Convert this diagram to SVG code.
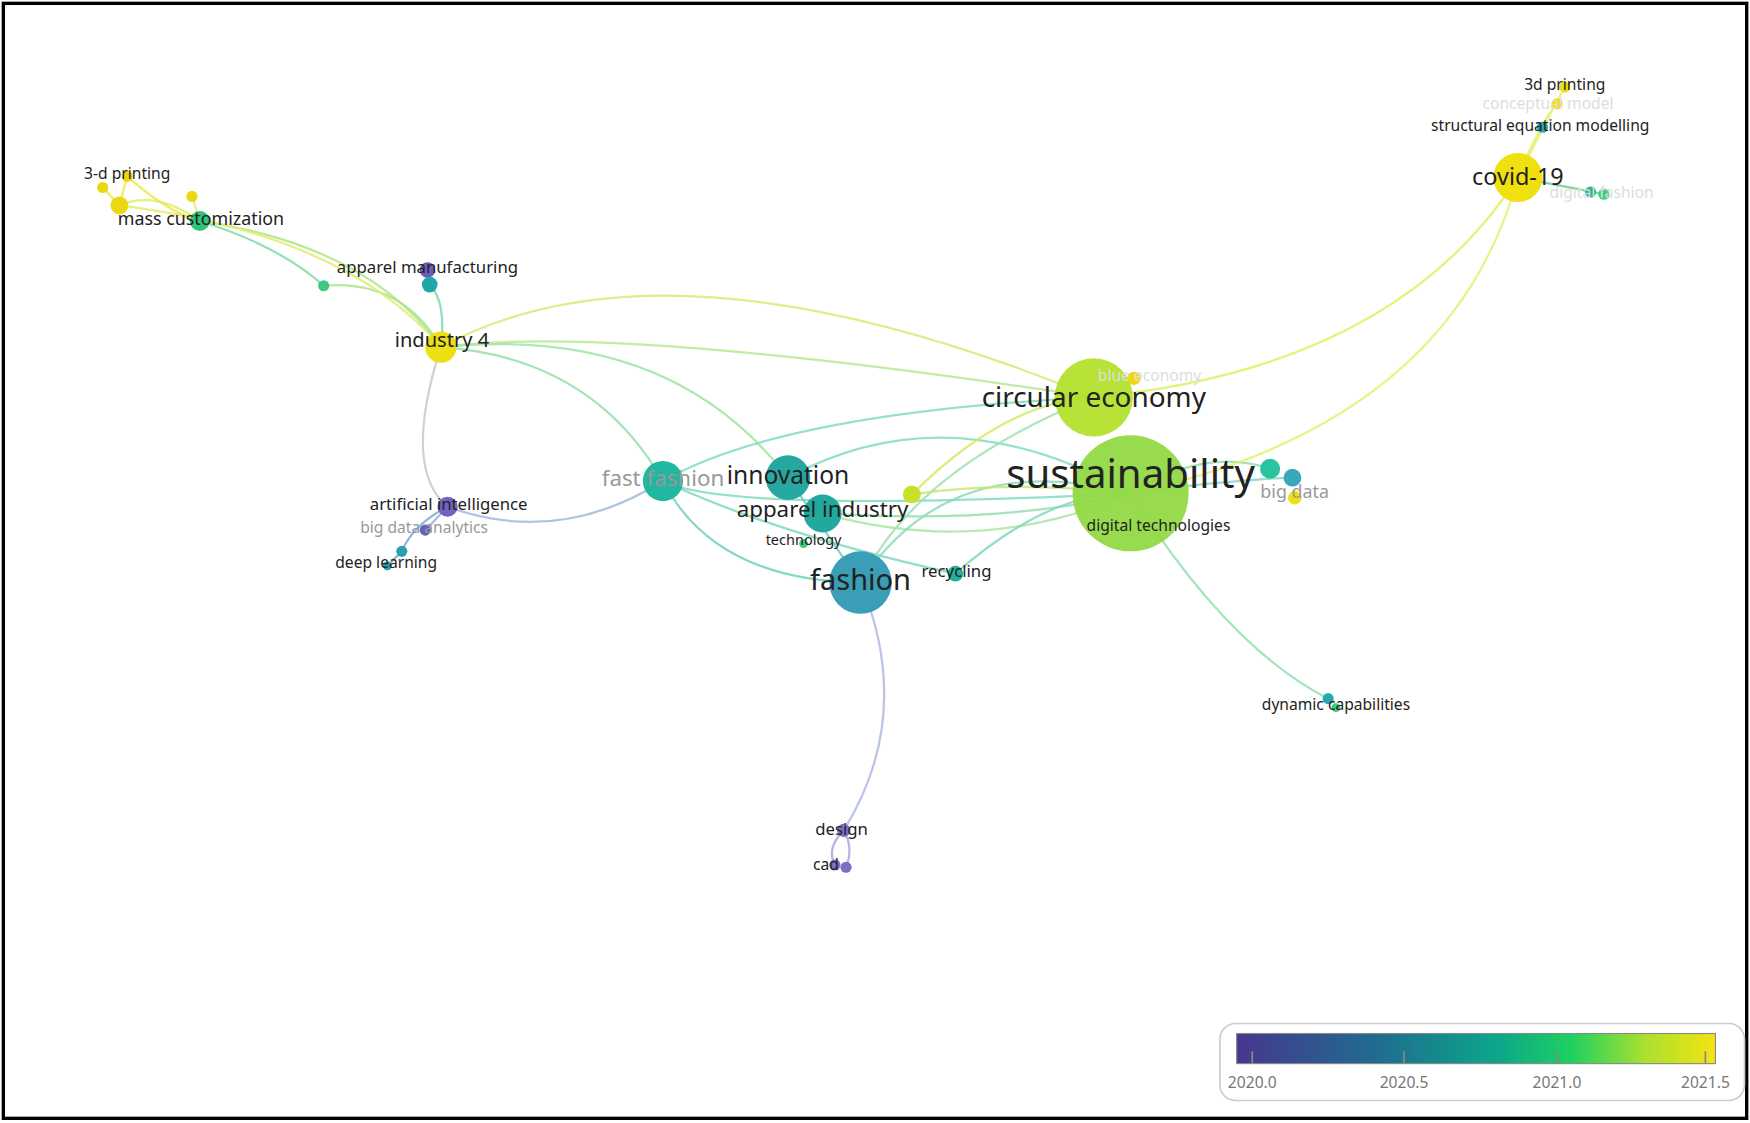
<svg xmlns="http://www.w3.org/2000/svg" width="1750" height="1123" viewBox="0 0 1750 1123">
<defs>
<style>
text{font-family:"Noto Sans","Open Sans","DejaVu Sans",sans-serif;fill:#222;text-anchor:middle;dominant-baseline:middle}
.g{fill:#999}.f{fill:#ddd}
.c path{fill:none;stroke-width:2;opacity:.85}
.lt{font-size:14px}
</style>
<linearGradient id="lg" x1="0" x2="1">
<stop offset="0" stop-color="#46378e"/><stop offset="0.3" stop-color="#1f6d8f"/><stop offset="0.55" stop-color="#0ca88a"/><stop offset="0.7" stop-color="#20d060"/><stop offset="0.85" stop-color="#a8e030"/><stop offset="1" stop-color="#f5e410"/>
</linearGradient>
</defs>
<rect x="0" y="0" width="1750" height="1123" fill="#fff"/>
<g transform="scale(1.1161)">
<rect x="3" y="3" width="1562" height="999" fill="none" stroke="#000" stroke-width="3"/>
<g class="c" id="connectors">
<path d="M395 311 Q600 200 980 356" stroke="#d4ec70"/>
<path d="M395 311 Q550 290 980 356" stroke="#b8e890"/>
<path d="M395 311 Q530 320 594 431" stroke="#90e0a8"/>
<path d="M395 311 Q600 290 706 428" stroke="#a0e4a0"/>
<path d="M395 311 Q330 220 179 198" stroke="#b0e880"/>
<path d="M395 311 Q360 250 290 256" stroke="#a8e48c"/>
<path d="M395 311 Q400 270 385 255" stroke="#80d8b0"/>
<path d="M395 311 Q360 420 401 454" stroke="#c8c8d0"/>
<path d="M395 311 Q310 210 107 184" stroke="#e0ec70"/>
<path d="M290 256 Q250 220 179 198" stroke="#80dca0"/>
<path d="M107 184 Q140 170 179 198" stroke="#e0ec70"/>
<path d="M114 158 L107 184 L92 168 M114 158 Q150 190 179 198" stroke="#f0e840"/>
<path d="M172 176 L179 198" stroke="#e0ec70"/>
<path d="M401 454 Q500 490 594 431" stroke="#a0b8e0"/>
<path d="M401 454 Q370 470 360 494 L347 507" stroke="#80a8d0"/>
<path d="M401 454 L381 475" stroke="#a8a8e0"/>
<path d="M594 431 Q650 460 1013 442" stroke="#80dcc0"/>
<path d="M594 431 Q700 370 980 356" stroke="#80dcc0"/>
<path d="M594 431 Q640 520 771 522" stroke="#70d0c0"/>
<path d="M594 431 Q700 480 856 514" stroke="#80d8c0"/>
<path d="M706 428 Q850 350 1013 442" stroke="#80dcc0"/>
<path d="M706 428 L771 522" stroke="#70ccc0"/>
<path d="M737 460 Q900 470 1013 442" stroke="#90e0b0"/>
<path d="M737 460 Q880 500 1013 442" stroke="#a8e8a0"/>
<path d="M771 522 Q850 400 1013 442" stroke="#88dcb8"/>
<path d="M771 522 Q820 420 980 356" stroke="#a0e0b0"/>
<path d="M771 522 Q820 640 756 744" stroke="#b0b8e8"/>
<path d="M817 443 Q900 360 980 356" stroke="#d0ec60"/>
<path d="M817 443 Q900 430 1013 442" stroke="#c8e870"/>
<path d="M856 514 Q940 440 1013 442" stroke="#80d8c0"/>
<path d="M1013 442 Q1080 400 1138 420" stroke="#90e0a8"/>
<path d="M1013 442 Q1100 430 1158 428" stroke="#88d8c0"/>
<path d="M1013 442 Q1100 580 1190 626" stroke="#90e0b0"/>
<path d="M980 356 Q1250 330 1360 159" stroke="#e0f060"/>
<path d="M1013 442 Q1300 380 1360 159" stroke="#e8f070"/>
<path d="M1360 159 Q1390 100 1402 78 M1360 159 L1382 114 M1360 159 Q1380 110 1395 93" stroke="#e8f070"/>
<path d="M1360 159 L1437 174" stroke="#60d090"/>
<path d="M756 744 Q740 760 748 775 M756 744 Q765 760 758 777" stroke="#a8a8e0"/>
</g>
<g id="n-sustainability"><circle cx="1013" cy="442" r="52" fill="#92d944" opacity=".95"/><text x="1013" y="428" font-size="36">sustainability</text></g>
<g id="n-circular"><circle cx="980" cy="356" r="35" fill="#b3e02c" opacity=".95"/><text x="980" y="358" font-size="25">circular economy</text></g>
<g id="n-blue"><circle cx="1016" cy="339" r="6" fill="#f0d818"/><text x="1030" y="338" font-size="14" class="f">blue economy</text></g>
<g id="n-covid"><circle cx="1360" cy="159" r="22" fill="#f0e010"/><text x="1360" y="160" font-size="21">covid-19</text></g>
<g id="n-3dp"><circle cx="1402" cy="78" r="5" fill="#f0e010"/><text x="1402" y="77" class="lt">3d printing</text></g>
<g id="n-concept"><circle cx="1395" cy="93" r="5" fill="#f0e010"/><text x="1387" y="94" class="lt f">conceptual model</text></g>
<g id="n-sem"><circle cx="1382" cy="114" r="5" fill="#2aa6a8"/><text x="1380" y="114" class="lt">structural equation modelling</text></g>
<g id="n-digfash"><circle cx="1425" cy="172" r="5" fill="#28b890"/><circle cx="1437" cy="174" r="5" fill="#40d080"/><text x="1435" y="174" class="lt f">digital fashion</text></g>
<g id="n-industry4"><circle cx="395" cy="311" r="14" fill="#ece010"/><text x="396" y="306" font-size="18">industry 4</text></g>
<g id="n-appman"><circle cx="383" cy="242" r="7" fill="#6a5cb8"/><circle cx="385" cy="255" r="7" fill="#1ea8a8"/><text x="383" y="241" font-size="15">apparel manufacturing</text></g>
<g id="n-g1"><circle cx="290" cy="256" r="5" fill="#40c880"/></g>
<g id="n-masscust"><circle cx="179" cy="198" r="9" fill="#2ec47a"/><text x="180" y="197" font-size="16">mass customization</text></g>
<g id="n-3d"><circle cx="92" cy="168" r="5" fill="#ecd810"/><circle cx="114" cy="158" r="5" fill="#ecd810"/><circle cx="107" cy="184" r="8" fill="#ecd810"/><circle cx="172" cy="176" r="5" fill="#ecd810"/><text x="114" y="157" class="lt">3-d printing</text></g>
<g id="n-ai"><circle cx="401" cy="454" r="9" fill="#7064c0"/><text x="402" y="453" font-size="15">artificial intelligence</text></g>
<g id="n-bda"><circle cx="381" cy="475" r="5" fill="#6860b8"/><text x="380" y="474" class="lt g">big data analytics</text></g>
<g id="n-dl"><circle cx="360" cy="494" r="5" fill="#2aa0b0"/><circle cx="347" cy="507" r="4" fill="#2aa0b0"/><text x="346" y="505" class="lt">deep learning</text></g>
<g id="n-ff"><circle cx="594" cy="431" r="18" fill="#20b8a0"/><text x="594" y="430" font-size="20" class="g">fast fashion</text></g>
<g id="n-innov"><circle cx="706" cy="428" r="20" fill="#26a8a0"/><text x="706" y="428" font-size="22">innovation</text></g>
<g id="n-appind"><circle cx="737" cy="460" r="17" fill="#22a89c"/><text x="737" y="458" font-size="20">apparel industry</text></g>
<g id="n-tech"><circle cx="720" cy="487" r="4" fill="#40cc80"/><text x="720" y="485" font-size="13">technology</text></g>
<g id="n-fashion"><circle cx="771" cy="522" r="28" fill="#3a9eb6"/><text x="771" y="522" font-size="26">fashion</text></g>
<g id="n-recyc"><circle cx="856" cy="514" r="7" fill="#20b0a0"/><text x="857" y="513" font-size="15">recycling</text></g>
<g id="n-yg"><circle cx="817" cy="443" r="8" fill="#c8e028"/></g>
<g id="n-bigdata"><circle cx="1138" cy="420" r="9" fill="#2cc4a0"/><circle cx="1158" cy="428" r="8" fill="#36a8b8"/><circle cx="1160" cy="446" r="6" fill="#f0e010"/><text x="1160" y="442" font-size="16" class="g">big data</text></g>
<g id="n-digtech"><text x="1038" y="472" font-size="14">digital technologies</text></g>
<g id="n-dyncap"><circle cx="1190" cy="626" r="5" fill="#2aa8b0"/><circle cx="1197" cy="634" r="4" fill="#40cc80"/><text x="1197" y="632" class="lt">dynamic capabilities</text></g>
<g id="n-design"><circle cx="756" cy="744" r="6" fill="#7a70c4"/><text x="754" y="744" font-size="15">design</text></g>
<g id="n-cad"><circle cx="748" cy="775" r="5" fill="#7a70c4"/><circle cx="758" cy="777" r="5" fill="#7a70c4"/><text x="740" y="776" font-size="14">cad</text></g>
<g id="legend">
<rect x="1093" y="917" width="470" height="69" rx="14" fill="#fff" stroke="#ccc" stroke-width="1.5"/>
<rect x="1108" y="926" width="429" height="27" fill="url(#lg)" stroke="#888"/>
<path d="M1122 942v11M1258 942v11M1395 942v11M1528 942v11" stroke="#888" stroke-width="1.5"/>
<text x="1122" y="971" class="lt" fill="#777" style="fill:#777">2020.0</text><text x="1258" y="971" class="lt" style="fill:#777">2020.5</text><text x="1395" y="971" class="lt" style="fill:#777">2021.0</text><text x="1528" y="971" class="lt" style="fill:#777">2021.5</text>
</g>
</g>
</svg>
